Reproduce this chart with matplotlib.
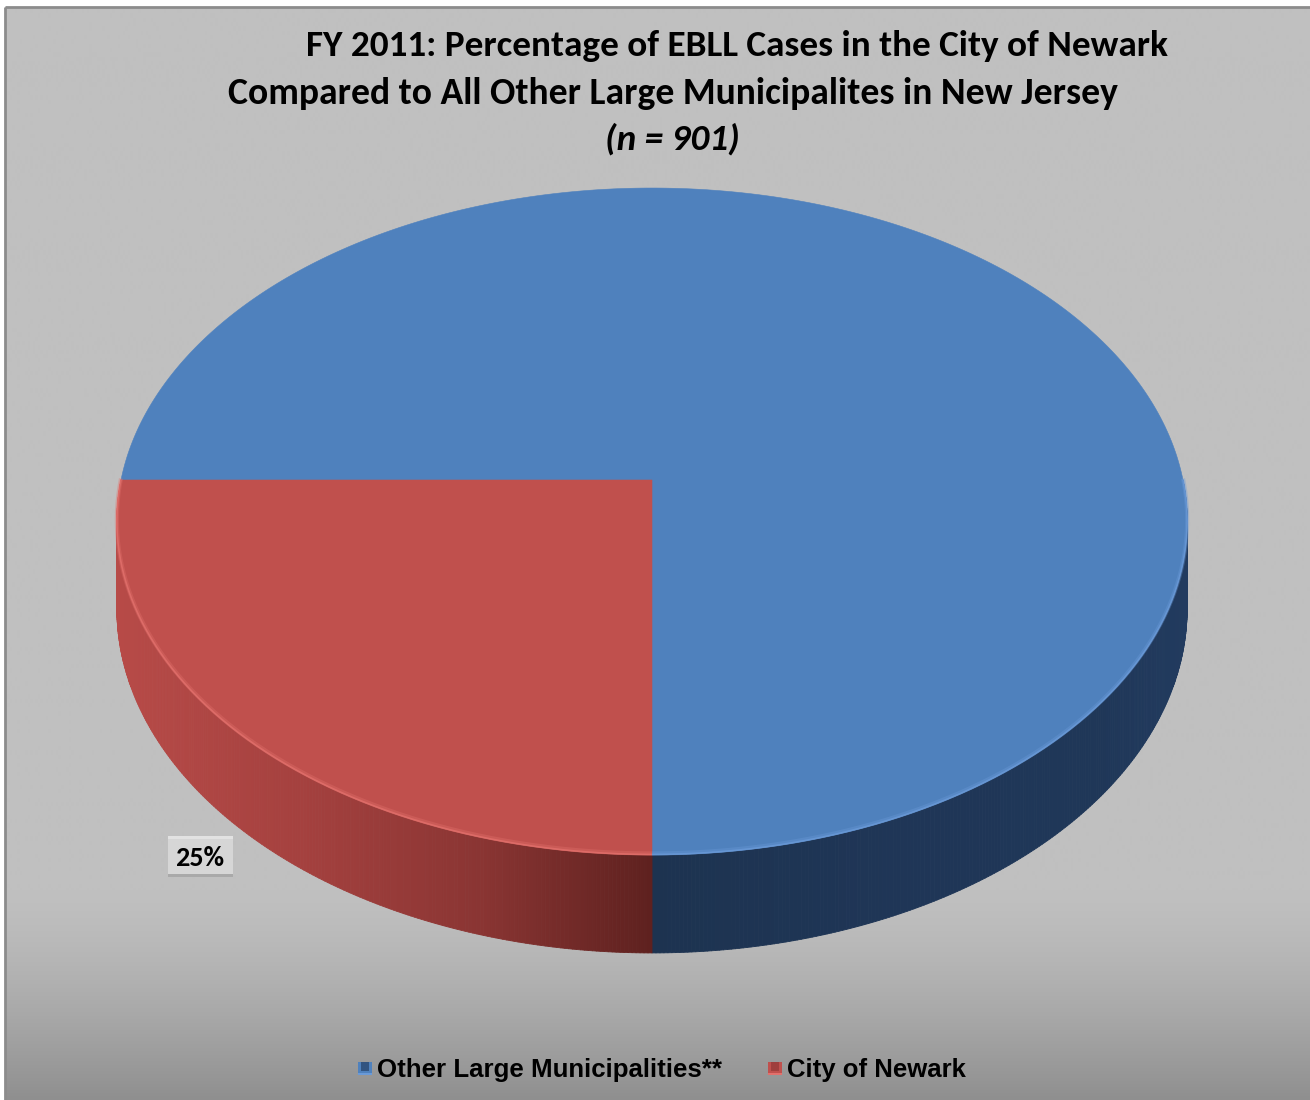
import numpy as np
import matplotlib
matplotlib.use("Agg")
import matplotlib.pyplot as plt
from matplotlib.patches import Polygon, Rectangle
from matplotlib.collections import PolyCollection
from matplotlib import font_manager

# ---- data ----
categories = ["Other Large Municipalities**", "City of Newark"]
shares = [75, 25]                      # percent of EBLL cases
show_label = [False, True]
n_cases = 901
title_lines = [
    "FY 2011: Percentage of EBLL Cases in the City of Newark",
    "Compared to All Other Large Municipalites in New Jersey",
]

# ---- styling ----
top_colors = ["#4F81BD", "#C0504D"]
side_stops = [
    ([652, 900, 1100, 1190], ["#1D3350", "#1F3657", "#1F3758", "#223B5F"]),
    ([110, 300, 480, 652], ["#B84B48", "#A5413F", "#8A3533", "#5F211F"]),
]
rim_colors = ["#6A9AD8", "#E2706C"]


def pick(names):
    have = {f.name for f in font_manager.fontManager.ttflist}
    for n in names:
        if n in have:
            return n
    return "DejaVu Sans"


title_font = pick(["Carlito", "Lato", "Open Sans", "DejaVu Sans"])
legend_font = pick(["Liberation Sans", "Arimo", "DejaVu Sans"])

W, H = 1310, 1100
fig = plt.figure(figsize=(W / 100, H / 100), dpi=100)
fig.patch.set_facecolor("white")
ax = fig.add_axes([0, 0, 1, 1])
ax.set_xlim(0, W)
ax.set_ylim(H, 0)
ax.axis("off")

# chart-area background: flat grey with a darker band toward the bottom
ys = np.arange(7, H + 11)
s = np.clip((ys - 890) / 210.0, 0, 1)
g = (192 - 49 * s ** 1.4) / 255.0
bg = np.repeat(g[:, None], 2, axis=1)
ax.imshow(np.dstack([bg, bg, bg]), extent=(5, W + 10, H + 10, 7), aspect="auto",
          interpolation="bilinear", zorder=0)
ax.set_xlim(0, W)
ax.set_ylim(H, 0)
ax.plot([5, 5], [H + 5, 7], color="#8C8C8C", lw=2, zorder=1, solid_capstyle="butt")
ax.plot([5, W + 5], [7, 7], color="#8C8C8C", lw=2, zorder=1, solid_capstyle="butt")

# ---- 3-D pie in perspective ----
cx, cy = 652.0, 480.0
A, B, c = 531.0, 328.3, 0.1244
depth = 85.8
start_angle = 180.0


def project(t_deg, drop=0.0):
    t = np.radians(t_deg)
    u, v = np.cos(t), np.sin(t)
    w = 1 + c * v
    return cx + A * u / w, cy + (-B * v + drop) / w


def hex2rgb(h):
    return np.array([int(h[i:i + 2], 16) for i in (1, 3, 5)]) / 255.0


# slice angle ranges (clockwise from start_angle)
ranges = []
acc = 0.0
total = float(sum(shares))
for val in shares:
    t1 = start_angle - acc / total * 360.0
    t2 = t1 - val / total * 360.0
    ranges.append((t2, t1))
    acc += val

# side walls (front half only)
for i, (t2, t1) in enumerate(ranges):
    lo, hi = max(t2, -180.0), min(t1, 0.0)
    if hi <= lo:
        continue
    ts = np.linspace(lo, hi, 240)
    xt, yt = project(ts)
    xb, yb = project(ts, depth)
    quads, cols = [], []
    xs_stop, c_stop = side_stops[i]
    rgb_stop = np.array([hex2rgb(h) for h in c_stop])
    for k in range(len(ts) - 1):
        quads.append([(xt[k], yt[k]), (xt[k + 1], yt[k + 1]),
                      (xb[k + 1], yb[k + 1]), (xb[k], yb[k])])
        xm = 0.5 * (xt[k] + xt[k + 1])
        cols.append([np.interp(xm, xs_stop, rgb_stop[:, j]) for j in range(3)])
    pc = PolyCollection(quads, facecolors=cols, edgecolors=cols,
                        linewidths=0.6, zorder=3)
    ax.add_collection(pc)

# top faces
for i, (t2, t1) in enumerate(ranges):
    ts = np.linspace(t1, t2, 400)
    xt, yt = project(ts)
    pts = np.column_stack([np.r_[cx, xt], np.r_[cy, yt]])
    ax.add_patch(Polygon(pts, closed=True, facecolor=top_colors[i],
                         edgecolor=top_colors[i], lw=0.4, zorder=4))

# light rim along the front edge of the top
for i, (t2, t1) in enumerate(ranges):
    lo, hi = max(t2, -180.0), min(t1, 0.0)
    if hi <= lo:
        continue
    ts = np.linspace(lo, hi, 200)
    xt, yt = project(ts)
    ax.plot(xt, yt - 1.5, color=rim_colors[i], lw=3, alpha=0.35, zorder=5,
            solid_capstyle="butt")
    ax.plot(xt, yt - 0.5, color=rim_colors[i], lw=1.2, alpha=0.8, zorder=5,
            solid_capstyle="butt")


def fit_text(s, x0, x1, yb, **kw):
    t = ax.text((x0 + x1) / 2, yb, s, ha="center", va="baseline",
                fontsize=20, zorder=8, **kw)
    r = fig.canvas.get_renderer()
    w = t.get_window_extent(r).width
    t.set_fontsize(20 * (x1 - x0) / w)
    return t


# ---- data label ----
for i, val in enumerate(shares):
    if not show_label[i]:
        continue
    ax.add_patch(Rectangle((168, 836), 65, 41, facecolor="#D6D6D6",
                           edgecolor="none", zorder=6))
    ax.add_patch(Rectangle((168, 836), 65, 3, facecolor="#E2E2E2",
                           edgecolor="none", zorder=6))
    ax.add_patch(Rectangle((168, 874), 65, 3, facecolor="#A9A9A9",
                           edgecolor="none", zorder=6))
    fit_text(f"{val}%", 175, 224, 866, family=title_font, fontweight="bold",
             color="black")

# ---- title ----
fit_text(title_lines[0], 305, 1168, 56, family=title_font, fontweight="bold")
fit_text(title_lines[1], 228, 1117, 104, family=title_font, fontweight="bold")
fit_text(f"(n = {n_cases})", 605, 740, 150, family=title_font,
         fontweight="bold", fontstyle="italic")

# ---- legend ----
marker_x = [358, 768]
text_x = [377, 787]
text_right = [722, 966]
for i, name in enumerate(categories):
    mx = marker_x[i]
    ax.add_patch(Rectangle((mx, 1062), 14, 13, facecolor=top_colors[i],
                           edgecolor="none", zorder=8))
    ax.add_patch(Rectangle((mx + 3, 1062), 8, 9, facecolor=side_stops[i][1][2],
                           edgecolor="none", alpha=0.6, zorder=8))
    ax.add_patch(Rectangle((mx, 1073), 14, 2, facecolor=rim_colors[i],
                           edgecolor="none", zorder=8))
    fit_text(name, text_x[i], text_right[i], 1077, family=legend_font,
             fontweight="bold")

fig.savefig("out.png", dpi=100, facecolor=fig.get_facecolor())
